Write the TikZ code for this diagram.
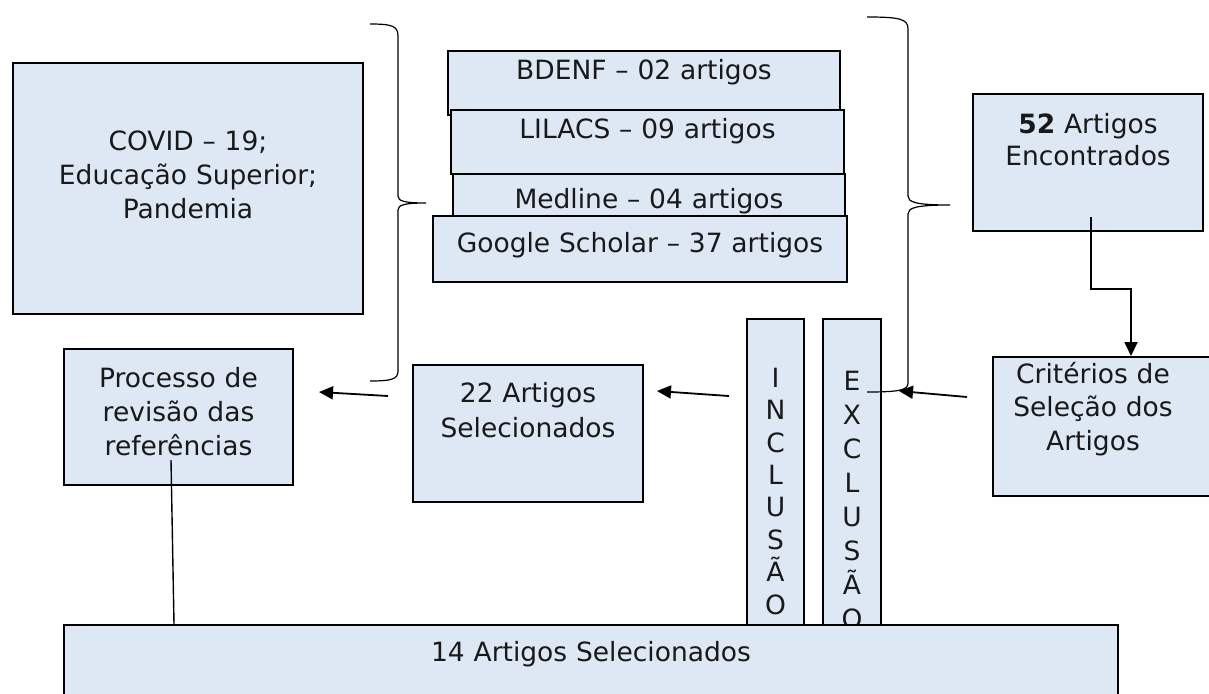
\documentclass[tikz,border=0pt]{standalone}
\usepackage{fontspec}
\setmainfont{DejaVu Sans}
\usetikzlibrary{positioning,arrows.meta}
\definecolor{boxfill}{RGB}{222,232,245}

\begin{document}
\begin{tikzpicture}
[x = 1pt, y = -1pt,
box/.style = {draw, line width=2pt, fill=boxfill, anchor=north west, inner sep=0pt},
txt/.style = {align=center, text width=420pt, inner sep=0pt, text height=19pt, text=black!90,
              font=\fontsize{26.5}{34}\selectfont},
arr/.style = {line width=1.8pt, -{Triangle[length=14pt,width=13pt]}},
brc/.style = {line width=1.2pt}]
\useasboundingbox (0,0) rectangle (1209,693);

\node[box, minimum width=350pt, minimum height=251pt] (covid) at (12,62) {};
\node[txt, below=69pt of covid.north] (covidtxt) {COVID – 19;\\Educação Superior;\\Pandemia};

\node[box, minimum width=392pt, minimum height=64pt] (bdenf) at (447,50) {};
\node[txt, below=10pt of bdenf.north] (bdenftxt) {BDENF – 02 artigos};
\node[box, minimum width=393pt, minimum height=64pt] (lilacs) at (450,109) {};
\node[txt, below=10pt of lilacs.north] (lilacstxt) {LILACS – 09 artigos};
\node[box, minimum width=392pt, minimum height=60pt] (medline) at (452,173) {};
\node[txt, below=16pt of medline.north] (medlinetxt) {Medline – 04 artigos};
\node[box, minimum width=414pt, minimum height=66pt] (google) at (432,215) {};
\node[txt, below=18pt of google.north] (googletxt) {Google Scholar – 37 artigos};

\node[box, minimum width=230pt, minimum height=137pt] (found) at (972,93) {};
\node[txt, below=21pt of found.north, font=\fontsize{26.5}{32}\selectfont] (foundtxt)
  {\textbf{52} Artigos\\Encontrados};
\node[box, minimum width=220pt, minimum height=139pt] (crit) at (992,356) {};
\node[txt, below=8pt of crit.north, xshift=-10pt, font=\fontsize{26.5}{33.5}\selectfont] (crittxt)
  {Critérios de\\Seleção dos\\Artigos};

\node[box, minimum width=229pt, minimum height=136pt] (proc) at (63,348) {};
\node[txt, below=20pt of proc.north] (proctxt) {Processo de\\revisão das\\referências};
\node[box, minimum width=230pt, minimum height=137pt] (sel22) at (412,364) {};
\node[txt, below=19pt of sel22.north, font=\fontsize{26.5}{35}\selectfont] (sel22txt)
  {22 Artigos\\Selecionados};

\node[box, minimum width=57pt, minimum height=322pt] (inc) at (746,318) {};
\node[txt, below=50pt of inc.north, font=\fontsize{26.5}{32.4}\selectfont] (inctxt)
  {I\\N\\C\\L\\U\\S\\Ã\\O};
\node[box, minimum width=58pt, minimum height=322pt] (exc) at (822,318) {};
\node[txt, below=53pt of exc.north] (exctxt) {E\\X\\C\\L\\U\\S\\Ã\\O};

\node[box, minimum width=1054pt, minimum height=100pt] (sel14) at (63,624) {};
\node[txt, below=18pt of sel14.north] (sel14txt) {14 Artigos Selecionados};

\draw[brc] (370,24) .. controls (392,24) and (398,26) .. (398,36) -- (398,196)
  .. controls (398,201) and (404,203) .. (426,203)
  .. controls (404,203) and (398,205) .. (398,210) -- (398,371)
  .. controls (398,379) and (392,381) .. (370,381);
\draw[brc] (867,17) .. controls (900,17) and (908,19) .. (908,29) -- (908,196)
  .. controls (908,202) and (915,205) .. (950,205)
  .. controls (915,205) and (908,208) .. (908,214) -- (908,383)
  .. controls (908,390) and (900,392) .. (867,392);

\draw[arr] ([xshift=3pt,yshift=15pt]found.south) -- ++(0,72) -| ([xshift=28pt]crit.north);
\draw[arr] ([xshift=-25pt,yshift=29.5pt]crit.west) -- ([xshift=17pt,yshift=-73pt]exc.north east);
\draw[arr] ([xshift=-17pt,yshift=-78pt]inc.north west) -- ([xshift=13pt,yshift=-27pt]sel22.north east);
\draw[arr] ([xshift=-24pt,yshift=-32pt]sel22.north west) -- ([xshift=25pt,yshift=-44pt]proc.north east);
\draw[line width=1.4pt] ([xshift=-7.5pt,yshift=26pt]proc.south) -- ([xshift=111pt]sel14.north west);

\end{tikzpicture}
\end{document}
